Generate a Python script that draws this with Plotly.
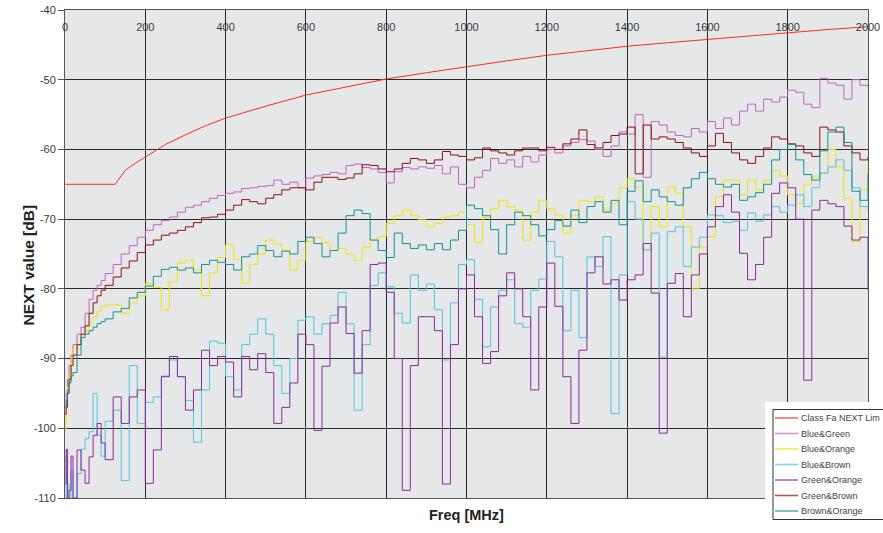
import plotly.graph_objects as go

# ---------------- data ----------------
EARLY_FREQ = [1, 3, 6, 10, 15, 20, 30, 40, 50, 60, 70, 80, 90]
FREQ = EARLY_FREQ + list(range(100, 2001, 20))

LIMIT_FREQ = [1, 125, 130, 150, 175, 200, 250, 300, 350, 400, 450, 500, 600, 700,
              800, 900, 1000, 1100, 1200, 1300, 1400, 1500, 1600, 1700, 1800, 1900, 2000]
LIMIT = [-65, -65, -64.6, -63.0, -62.0, -61.1, -59.3, -57.9, -56.6, -55.5, -54.6, -53.8,
         -52.2, -51.0, -49.9, -49.0, -48.1, -47.3, -46.5, -45.8, -45.2, -44.7, -44.2,
         -43.7, -43.2, -42.8, -42.4]

BLUE_GREEN = [-97, -95, -93, -91, -89.5, -88, -86.5, -85.5, -83.5, -81.5, -80.2, -79.5, -78.8,
              -77.8, -76.5, -75, -73.8, -72.6, -71.6, -70.8, -70.2, -69.7, -69,
              -68.3, -68, -67.5, -67, -66.6, -66.3, -66.1, -65.6, -65.5, -65.3,
              -65.2, -64.4, -65, -64.7, -65.5, -64.1, -63.8, -63.6, -63.3, -63.5,
              -62.3, -62.1, -62.6, -62.8, -63.3, -64.8, -63.2, -62.6, -62.8, -62.5,
              -62.7, -62.3, -63.5, -62.5, -65, -65.5, -64, -63, -61.3, -62,
              -61.5, -62.5, -61, -61.8, -60.8, -60, -60.5, -59.5, -59, -58.6,
              -58.8, -60, -61, -59.5, -57.5, -57.8, -55, -64, -56, -56.5,
              -57.5, -58, -58.2, -57, -57.5, -56, -57, -55.5, -56.5, -54.5,
              -53.5, -54.5, -52.8, -53.2, -52.5, -51.5, -51.8, -53.5, -54, -49.8,
              -50.5, -50.8, -52.8, -50, -50.8, -51]

BLUE_ORANGE = [-100, -97, -94, -92, -90, -88.5, -88, -86.5, -86, -84.8, -84, -83.2, -82.5,
               -82.3, -82.3, -83.5, -82, -81, -79.2, -79.8, -83, -79, -76.3,
               -75.9, -77.3, -81, -77.7, -75.5, -73.7, -75.8, -79.2, -76.5, -75,
               -73, -73.6, -74.4, -77.3, -75.9, -73.2, -72.6, -73.4, -74.5, -74.2,
               -75, -75.9, -74, -73, -72.5, -70.6, -69.5, -68.7, -69.5, -70.1,
               -71.1, -70.6, -69.7, -69.5, -69, -70.8, -73.4, -69.8, -68.5, -67.3,
               -68.2, -68.7, -73, -69, -67.3, -68.5, -69.4, -72, -69.5, -67.3,
               -67.5, -66.8, -68.7, -67.7, -65.5, -64.2, -65.4, -74.4, -68.2, -71.1,
               -65.4, -66.3, -71.1, -80, -74, -72.5, -66.8, -64.4, -64.4, -66.5,
               -64.4, -65.8, -64.4, -63, -63.8, -66.5, -67.8, -65, -64, -63.4,
               -60, -62.5, -67, -73.3, -65.8, -62.5]

BLUE_BROWN = [-110, -104, -108, -110, -106, -110, -106.5, -103, -101.5, -100.5, -95, -101, -104,
              -99, -97.4, -107.5, -91, -99.3, -96.3, -95.5, -92.5, -90.2, -92.6,
              -96, -102, -94.5, -87.5, -87.8, -92.6, -94.5, -88, -86.5, -84.3,
              -86.5, -91, -95, -90, -84.5, -84, -86.5, -85, -83.8, -80.5,
              -85, -97.4, -88, -79.5, -77.7, -79.7, -83.5, -84.9, -78, -80.2,
              -79.3, -83, -90.2, -82, -76.5, -75.8, -81.5, -88.3, -82.6, -80.2,
              -78.7, -85, -85.5, -80.2, -78.6, -73.2, -75.4, -86, -80.2, -87,
              -75.4, -76.8, -72.5, -97.9, -78, -67.5, -70, -74.4, -72, -89.8,
              -71.8, -71.1, -76.8, -74, -72.6, -69.4, -69.5, -70.5, -70.3, -71.6,
              -69.1, -70.3, -69.4, -68.2, -69, -68, -66.5, -68.2, -65.5, -63.4,
              -62.5, -61.5, -63, -65.5, -68.2, -68.7]

GREEN_ORANGE = [-108, -103, -110, -108.9, -104, -110, -103.1, -106, -107.9, -104.1, -101, -99.3, -102.1,
                -104.5, -95.5, -99.3, -95.5, -94.5, -107.9, -103.1, -92.6, -89.7, -92.6,
                -97.4, -94.5, -88.8, -91, -89.7, -90.5, -95.5, -89.7, -91.6, -89.3,
                -92, -99.3, -97, -93.5, -86.5, -88, -100.3, -91.1, -84.9, -82.6,
                -86.4, -92.1, -86, -76.5, -76.3, -80.5, -90, -108.9, -91, -84,
                -84, -86, -108, -88, -80, -78, -84, -90.7, -89, -81,
                -77.7, -80, -84, -94.5, -82.6, -76.3, -82.5, -92.6, -99.3, -88.8,
                -77.7, -75.4, -79.3, -78.7, -81.6, -78.7, -78, -73.5, -80.6, -100.7,
                -79.2, -77.8, -84, -78, -75, -71.1, -68.2, -66.5, -69, -74.9,
                -78.7, -76.5, -72.6, -66.3, -64.8, -65.5, -70, -93.1, -68.7, -67.3,
                -67.8, -68.2, -71, -73, -72.6, -80.2]

GREEN_BROWN = [-98, -97, -95, -93, -91, -89.5, -88, -86.5, -85.3, -83.5, -82, -81, -80.2,
               -79.5, -78.3, -77, -76, -74.8, -73.7, -73, -72.3, -72, -71.6,
               -71.1, -70.5, -69.8, -69.7, -69.3, -68.7, -68, -67.2, -67.5, -67.8,
               -67, -66.5, -65.8, -65.5, -65.5, -65.8, -64.7, -64, -64, -64.3,
               -64.1, -63.5, -62.2, -62.3, -62.8, -63.2, -62.8, -62, -61.3, -61.5,
               -62, -61.5, -60.3, -60.8, -61, -61.5, -61.2, -59.8, -60.2, -60.5,
               -60.8, -60.2, -59.8, -59.8, -60.2, -59.7, -60, -59.2, -58.5, -57.2,
               -59.3, -59.8, -59, -58, -57.8, -56.8, -63.5, -56.5, -58.5, -58.2,
               -58.5, -59, -59.8, -60.5, -61, -59.5, -57.7, -59, -60.5, -61.5,
               -62, -61, -59.8, -58.2, -58.5, -59.2, -59.5, -60.5, -61, -56.8,
               -57.2, -57.5, -59.5, -60.5, -61.5, -61]

BROWN_ORANGE = [-97, -96, -94.5, -93.5, -92.5, -92, -89.5, -87, -86.5, -86, -85.5, -85, -84.7,
                -84.3, -83.3, -82.8, -81.3, -80.5, -79.6, -78.2, -77.2, -76.9, -77.3,
                -77, -77.7, -76.5, -75.9, -76.2, -76.5, -77.3, -75.4, -75, -73.8,
                -74.5, -75.4, -74.6, -75, -73.2, -72.6, -73.5, -75.4, -74.5, -72,
                -69.5, -68.7, -69.2, -73, -74.5, -75.5, -72, -73.5, -74.2, -73.7,
                -74.4, -73.5, -74.4, -73, -71.6, -68, -68.5, -69.5, -71.5, -75,
                -70.8, -69, -69.5, -70.8, -72.4, -71.5, -70.2, -71, -68.7, -70.5,
                -68.2, -67.5, -69, -67.3, -70.8, -66, -64.5, -67.5, -65.8, -66.8,
                -67.5, -68, -65.5, -64.2, -63.3, -64.2, -65, -65.4, -65, -67.3,
                -66.8, -66.2, -65, -61.5, -60, -59.3, -61.5, -63.6, -64.4, -60.2,
                -57.5, -56.8, -59, -66, -67.3, -63.5]

LIMIT_NAME = "Class Fa NEXT Lim"
LIMIT_COLOR = "#ff2e1c"
SERIES = [
    ("Blue&Green", BLUE_GREEN, "#c264c2"),
    ("Blue&Orange", BLUE_ORANGE, "#efe600"),
    ("Blue&Brown", BLUE_BROWN, "#4ec6df"),
    ("Green&Orange", GREEN_ORANGE, "#8a2b99"),
    ("Green&Brown", GREEN_BROWN, "#8c1212"),
    ("Brown&Orange", BROWN_ORANGE, "#129494"),
]

X_TICKS = list(range(0, 2001, 200))
Y_TICKS = list(range(-110, -39, 10))

FONT = "Liberation Sans, Arial, sans-serif"

# ---------------- figure ----------------
fig = go.Figure()
fig.add_trace(go.Scatter(x=LIMIT_FREQ, y=LIMIT, name=LIMIT_NAME, mode="lines",
                         line=dict(color=LIMIT_COLOR, width=1)))
for name, vals, col in SERIES:
    fig.add_trace(go.Scatter(x=FREQ, y=vals, name=name, mode="lines",
                             line=dict(color=col, width=1, shape="hv")))

W, H = 883, 533
L, R, T, B = 65, 15, 10, 35
pw, ph = W - L - R, H - T - B


def px_x(p):
    return (p - L) / pw


def px_y(p):
    return (H - B - p) / ph


# custom legend (box, line samples, labels) placed like the reference
legend_items = [(LIMIT_NAME, LIMIT_COLOR)] + [(n, c) for n, _, c in SERIES]
shapes = [
    dict(type="rect", xref="paper", yref="paper",
         x0=px_x(765), x1=px_x(895), y0=px_y(402), y1=px_y(540),
         fillcolor="white", line=dict(width=0), layer="above"),
    dict(type="rect", xref="paper", yref="paper",
         x0=px_x(773), x1=px_x(895), y0=px_y(409.5), y1=px_y(519.5),
         fillcolor="white", line=dict(color="#333333", width=1), layer="above"),
]
annotations = []
for i, (name, col) in enumerate(legend_items):
    yy = 418 + i * 15.5
    shapes.append(dict(type="line", xref="paper", yref="paper",
                       x0=px_x(775), x1=px_x(798), y0=px_y(yy), y1=px_y(yy),
                       line=dict(color=col, width=1.6), opacity=0.7, layer="above"))
    annotations.append(dict(text=name, xref="paper", yref="paper",
                            x=px_x(799), y=px_y(yy), xanchor="left", yanchor="middle",
                            showarrow=False,
                            font=dict(family=FONT, size=9, color="#444444")))

annotations += [
    dict(text="<b>Freq [MHz]</b>", xref="paper", yref="paper",
         x=px_x(466), y=px_y(525), showarrow=False,
         font=dict(family=FONT, size=14.5, color="#222222")),
    dict(text="<b>NEXT value [dB]</b>", xref="paper", yref="paper",
         x=px_x(17), y=px_y(265), showarrow=False, textangle=-90,
         font=dict(family=FONT, size=15.5, color="#222222")),
]

fig.update_layout(
    width=W, height=H,
    margin=dict(l=L, r=R, t=T, b=B, autoexpand=False),
    paper_bgcolor="white",
    plot_bgcolor="#e6e7e9",
    font=dict(family=FONT, size=11, color="#3a3a3a"),
    showlegend=False,
    xaxis=dict(
        range=[0, 2000], side="top", ticklabelposition="inside",
        ticklabeloverflow="allow", ticklabelstandoff=13,
        tickvals=X_TICKS, ticktext=[str(v) for v in X_TICKS],
        showgrid=True, gridcolor="#2a2a2a", gridwidth=1.2,
        showline=True, linecolor="#555555", linewidth=1, mirror=True,
        ticks="", zeroline=False, fixedrange=True,
        tickfont=dict(family=FONT, size=11, color="#3a3a3a"),
    ),
    yaxis=dict(
        range=[-110, -40], tickvals=Y_TICKS, ticktext=[str(v) for v in Y_TICKS],
        showgrid=True, gridcolor="#2a2a2a", gridwidth=1.2,
        showline=True, linecolor="#555555", linewidth=1, mirror=True,
        ticks="outside", ticklen=6, tickcolor="#555555",
        zeroline=False, fixedrange=True,
        tickfont=dict(family=FONT, size=11, color="#3a3a3a"),
    ),
    shapes=shapes,
    annotations=annotations,
)

fig.write_html("out.html", config={"displayModeBar": False},
               post_script="document.body.style.margin='0px';")
